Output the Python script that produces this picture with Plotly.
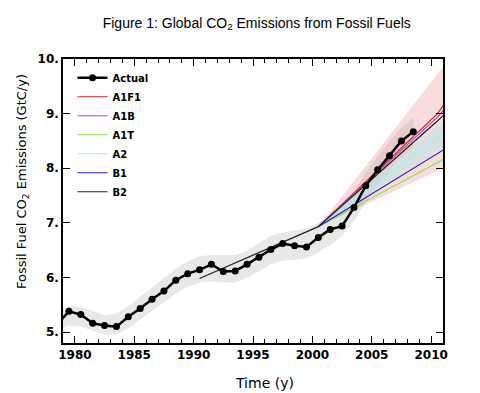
import plotly.graph_objects as go

# ---------------- data ----------------
actual_years = [1978.5, 1979.5, 1980.5, 1981.5, 1982.5, 1983.5, 1984.5, 1985.5, 1986.5,
                1987.5, 1988.5, 1989.5, 1990.5, 1991.5, 1992.5, 1993.5, 1994.5, 1995.5,
                1996.5, 1997.5, 1998.5, 1999.5, 2000.5, 2001.5, 2002.5, 2003.5, 2004.5,
                2005.5, 2006.5, 2007.5, 2008.5]
actual_values = [5.14, 5.38, 5.32, 5.16, 5.12, 5.10, 5.28, 5.43, 5.60,
                 5.75, 5.95, 6.07, 6.14, 6.24, 6.11, 6.12, 6.24, 6.37,
                 6.51, 6.62, 6.58, 6.56, 6.73, 6.88, 6.94, 7.28, 7.68,
                 7.97, 8.23, 8.50, 8.67]
# uncertainty band around the actual record
band_low = [5.02, 5.12, 5.10, 5.02, 4.95, 4.96, 5.07, 5.23, 5.39,
            5.55, 5.70, 5.83, 5.91, 5.93, 5.91, 5.91, 5.99, 6.11,
            6.24, 6.31, 6.32, 6.35, 6.46, 6.59, 6.76, 7.03, 7.38,
            7.69, 7.96, 8.20, 8.39]
band_high = [5.38, 5.48, 5.46, 5.38, 5.31, 5.34, 5.47, 5.65, 5.81,
             5.99, 6.16, 6.29, 6.39, 6.41, 6.41, 6.41, 6.49, 6.63,
             6.76, 6.83, 6.86, 6.89, 7.00, 7.13, 7.30, 7.57, 7.92,
             8.23, 8.50, 8.74, 8.93]

scen_years = [2000.5, 2010.5, 2020.5]
a1f1 = [6.93, 8.99, 11.95]
a1b = [6.93, 8.93, 11.30]
a1t = [6.93, 8.10, 9.40]
a2 = [6.93, 8.55, 10.10]
b1 = [6.93, 8.25, 9.60]
b2_years = [1990.5, 2000.5, 2010.5, 2020.5]
b2 = [5.98, 6.93, 8.86, 10.86]

# scenario envelope (pink) and inner range (cyan)
env_low = [6.93, 7.95, 8.90]
env_high = [6.93, 9.68, 12.50]
inner_low = [6.93, 8.33, 9.70]
inner_high = [6.93, 8.78, 10.60]

x_tickvals = [1980, 1985, 1990, 1995, 2000, 2005, 2010]
y_tickvals = [5, 6, 7, 8, 9, 10]
y_ticktext = ["5.", "6.", "7.", "8.", "9.", "10."]

# ---------------- figure ----------------
fig = go.Figure()

def band(x, lo, hi, color):
    fig.add_trace(go.Scatter(x=x, y=lo, mode="lines", line=dict(width=0),
                             showlegend=False, hoverinfo="skip"))
    fig.add_trace(go.Scatter(x=x, y=hi, mode="lines", line=dict(width=0),
                             fill="tonexty", fillcolor=color,
                             showlegend=False, hoverinfo="skip"))

band(actual_years, band_low, band_high, "rgba(232,232,232,1)")
band(scen_years, env_low, env_high, "rgba(225,130,130,0.28)")
band(scen_years, inner_low, inner_high, "rgba(195,228,228,0.6)")

scenarios = [("A1F1", scen_years, a1f1, "#d62020"),
             ("A1B", scen_years, a1b, "#c040d0"),
             ("A1T", scen_years, a1t, "#90e050"),
             ("A2", scen_years, a2, "#a0f0f0"),
             ("B1", scen_years, b1, "#2020d0"),
             ("B2", b2_years, b2, "#202020")]
for rank, (name, xs, ys, col) in enumerate(scenarios, start=2):
    fig.add_trace(go.Scatter(x=xs, y=ys, name=name, mode="lines", legendrank=rank,
                             line=dict(color=col, width=1.2)))

fig.add_trace(go.Scatter(x=actual_years, y=actual_values, name="Actual",
                         mode="lines+markers", legendrank=1,
                         line=dict(color="black", width=2.5),
                         marker=dict(color="black", size=7)))

tickfont = dict(family="DejaVu Sans", size=12, color="black", weight="bold")

# the page body adds an 8px offset at top/left, so the figure is 8px smaller
fig.update_layout(
    width=472, height=385,
    margin=dict(l=55, r=37, t=51, b=50),
    paper_bgcolor="white", plot_bgcolor="white",
    title=dict(text="Figure 1: Global CO<sub>2</sub> Emissions from Fossil Fuels",
               font=dict(family="Liberation Sans", size=14, color="black"),
               x=0.527, xanchor="center", y=0.962, yanchor="middle"),
    legend=dict(x=0.025, y=0.985, xanchor="left", yanchor="top",
                bgcolor="rgba(0,0,0,0)", borderwidth=0,
                font=dict(family="DejaVu Sans", size=10, color="black", weight="bold"),
                traceorder="normal", tracegroupgap=0),
    showlegend=True,
    xaxis=dict(range=[1979, 2011], tickvals=x_tickvals, showgrid=False, zeroline=False,
               showline=True, linecolor="black", linewidth=1.5, mirror="ticks",
               ticks="inside", ticklen=7, tickwidth=1.3, tickcolor="black",
               minor=dict(dtick=1, ticks="inside", ticklen=4, tickwidth=1, tickcolor="black"),
               tickfont=tickfont),
    yaxis=dict(range=[4.8, 10.0], tickvals=y_tickvals, ticktext=y_ticktext,
               showgrid=False, zeroline=False,
               showline=True, linecolor="black", linewidth=1.5, mirror="ticks",
               ticks="inside", ticklen=7, tickwidth=1.3, tickcolor="black",
               tickfont=tickfont),
    annotations=[
        dict(text="Time (y)", xref="paper", yref="paper", x=0.53, y=-0.14,
             xanchor="center", yanchor="middle", showarrow=False,
             font=dict(family="DejaVu Sans", size=14, color="black")),
        dict(text="Fossil Fuel CO<sub>2</sub> Emissions (GtC/y)", xref="paper", yref="paper",
             x=-0.108, y=0.57, xanchor="center", yanchor="middle", textangle=-90,
             showarrow=False, font=dict(family="DejaVu Sans", size=13, color="black")),
    ],
)

fig.write_html("out.html")
